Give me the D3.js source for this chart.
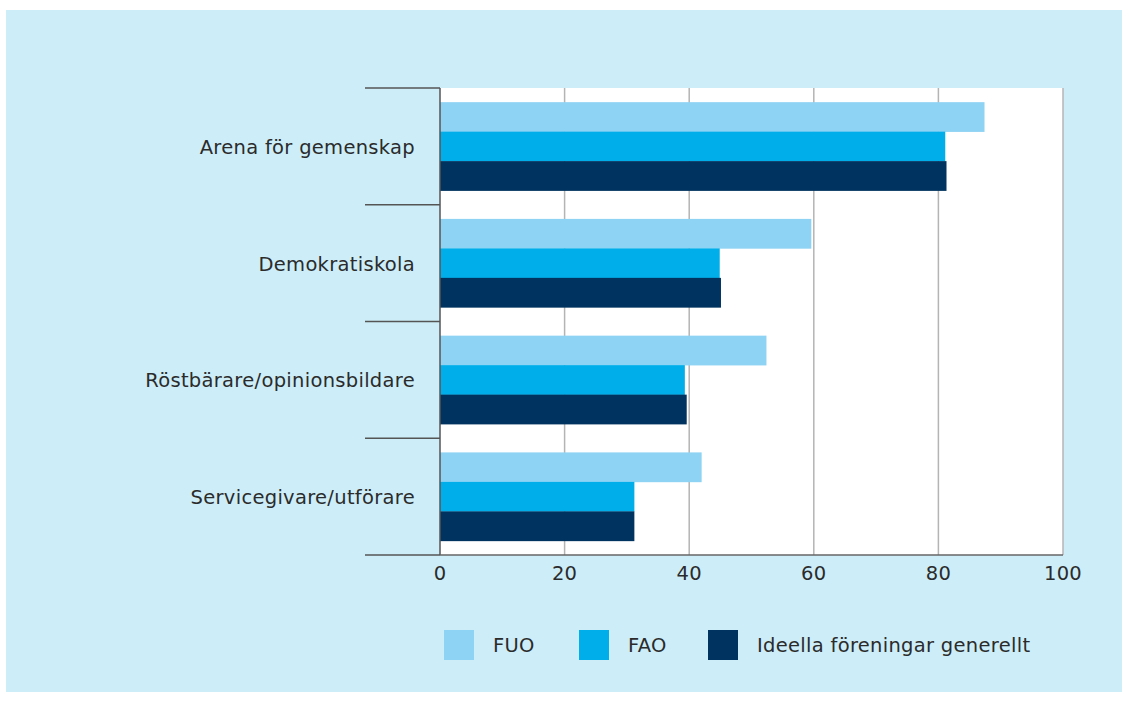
<!DOCTYPE html>
<html><head><meta charset="utf-8">
<script src="https://cdn.jsdelivr.net/npm/d3@7"></script>
<style>body{margin:0;background:#fff;}svg{display:block;}</style>
</head><body>
<svg id="c" width="1129" height="702"></svg>
<script>
const categories = ["Arena för gemenskap","Demokratiskola","Röstbärare/opinionsbildare","Servicegivare/utförare"];
const seriesNames = ["FUO","FAO","Ideella föreningar generellt"];
const fuo = [87.4, 59.6, 52.4, 42.0];
const fao = [81.1, 44.9, 39.3, 31.2];
const ideella = [81.3, 45.1, 39.6, 31.2];
const ticks = [0,20,40,60,80,100];
const colors = ["#8fd3f4","#00aeea","#00335f"];

const svg = d3.select("#c");
const font = "'DejaVu Sans', Verdana, sans-serif";
const fs = 19.5;
const ls = 0.3;
svg.append("rect").attr("x",6).attr("y",10).attr("width",1116).attr("height",682).attr("fill","#cdeef9");

const L=440, R=1063, T=88, B=555;
const x = d3.scaleLinear().domain([0,100]).range([L,R]);
const y = d3.scaleBand().domain(categories).range([T,B]).paddingInner(0).paddingOuter(0);
const sub = d3.scaleBand().domain(seriesNames).range([0,y.bandwidth()]).paddingOuter(0.48).paddingInner(0);

svg.append("rect").attr("x",L).attr("y",T).attr("width",R-L).attr("height",B-T).attr("fill","#fff");

// gridlines
svg.append("g").selectAll("line").data(ticks.slice(1)).join("line")
  .attr("x1",d=>x(d)).attr("x2",d=>x(d)).attr("y1",T).attr("y2",B)
  .attr("stroke","#b4b4b4").attr("stroke-width",1.5);

const data = [fuo,fao,ideella];
const g = svg.append("g");
categories.forEach((c,i)=>{
  seriesNames.forEach((s,j)=>{
    g.append("rect").attr("x",x(0)).attr("y",y(c)+sub(s))
     .attr("width",x(data[j][i])-x(0)).attr("height",sub.bandwidth()+0.3)
     .attr("fill",colors[j]);
  });
});

// category separators
const seps = categories.map(c=>y(c)).concat([B]);
svg.append("g").selectAll("line").data(seps).join("line")
  .attr("x1",365).attr("x2",L).attr("y1",d=>d).attr("y2",d=>d)
  .attr("stroke","#555").attr("stroke-width",1.5);
// left axis
svg.append("line").attr("x1",L).attr("x2",L).attr("y1",T).attr("y2",B).attr("stroke","#555").attr("stroke-width",1.5);
// bottom axis
svg.append("line").attr("x1",L).attr("x2",R).attr("y1",B).attr("y2",B).attr("stroke","#666").attr("stroke-width",1.5);

// x tick labels
svg.append("g").selectAll("text").data(ticks).join("text")
  .attr("x",d=>x(d)).attr("y",580).attr("text-anchor","middle")
  .attr("font-family",font).attr("font-size",fs).attr("letter-spacing",ls).attr("fill","#2b2b2b").text(d=>d);

// category labels
svg.append("g").selectAll("text").data(categories).join("text")
  .attr("x",415).attr("y",d=>y(d)+y.bandwidth()/2+7.5).attr("text-anchor","end")
  .attr("font-family",font).attr("font-size",fs).attr("letter-spacing",ls).attr("fill","#2b2b2b").text(d=>d);

// legend
const legX = [444,579,708];
seriesNames.forEach((s,j)=>{
  svg.append("rect").attr("x",legX[j]).attr("y",630).attr("width",30).attr("height",30).attr("fill",colors[j]);
  svg.append("text").attr("x",legX[j]+49).attr("y",651.5).attr("font-family",font).attr("font-size",fs).attr("letter-spacing",ls).attr("fill","#2b2b2b").text(s);
});
</script>
</body></html>
